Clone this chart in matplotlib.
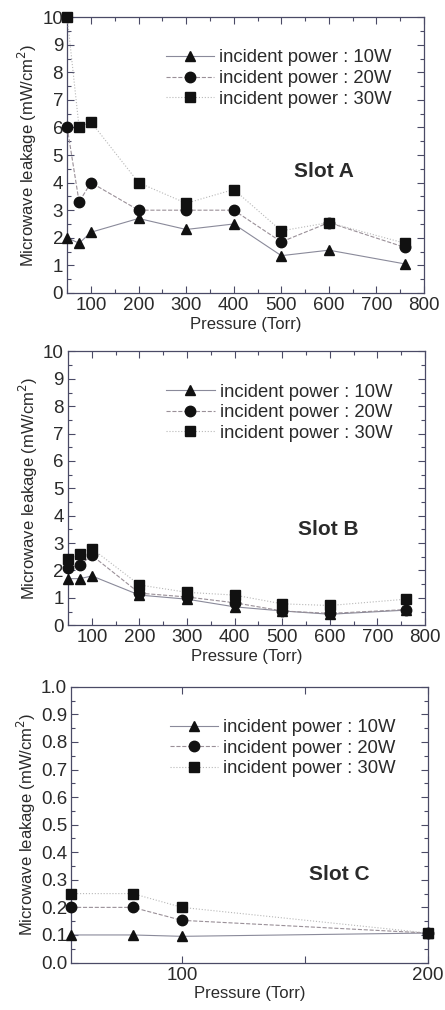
import numpy as np
import matplotlib
matplotlib.use("Agg")
from matplotlib import pyplot as plt
from matplotlib.ticker import MultipleLocator

# data
press_ab = [50, 75, 100, 200, 300, 400, 500, 600, 760]
a_10w = [2.0, 1.8, 2.2, 2.7, 2.3, 2.5, 1.35, 1.55, 1.05]
a_20w = [6.0, 3.3, 4.0, 3.0, 3.0, 3.0, 1.85, 2.55, 1.65]
a_30w = [10.0, 6.0, 6.2, 4.0, 3.25, 3.75, 2.25, 2.55, 1.8]

b_10w = [1.7, 1.7, 1.8, 1.1, 0.95, 0.67, 0.52, 0.4, 0.55]
b_20w = [2.1, 2.2, 2.55, 1.17, 1.03, 0.82, 0.52, 0.43, 0.57]
b_30w = [2.4, 2.6, 2.8, 1.47, 1.2, 1.1, 0.78, 0.72, 0.95]

press_c = [55, 80, 100, 200]
c_10w = [0.1, 0.1, 0.095, 0.107]
c_20w = [0.2, 0.2, 0.153, 0.107]
c_30w = [0.25, 0.25, 0.2, 0.107]

labels = ["incident power : 10W", "incident power : 20W", "incident power : 30W"]
markers = ["^", "o", "s"]
styles = ["-", "--", ":"]
lcolors = ["#8a8a9a", "#9a9098", "#b8b8b8"]

plt.rcParams['font.family'] = ['Liberation Sans', 'DejaVu Sans']
txt = "#2a2a2a"
frame = "#4a4a66"

fig = plt.figure(figsize=(4.45, 10.10), dpi=100)

def panel(rect, x, ys, slot, spos, xlim, ylim):
    ax = fig.add_axes(rect)
    for y, m, ls, c, lab in zip(ys, markers, styles, lcolors, labels):
        ax.plot(x, y, linestyle=ls, color=c, lw=0.8, marker=m, ms=7.5,
                mfc="#111111", mec="#111111", label=lab, clip_on=False, zorder=3)
    ax.set_xlim(*xlim)
    ax.set_ylim(*ylim)
    for s in ax.spines.values():
        s.set_color(frame)
        s.set_linewidth(0.9)
    ax.tick_params(which="both", direction="in", top=True, right=True,
                   colors=frame, labelcolor=txt, labelsize=13.5, width=0.8, pad=3)
    ax.tick_params(which="major", length=5)
    ax.tick_params(which="minor", length=3)
    ax.set_xlabel("Pressure (Torr)", fontsize=12, color=txt, labelpad=2)
    ax.set_ylabel("Microwave leakage (mW/cm$^2$)", fontsize=12, color=txt, labelpad=2)
    ax.legend(loc="upper left", bbox_to_anchor=(0.255, 0.91), frameon=False,
              fontsize=13.3, handlelength=2.6, handletextpad=0.3,
              labelspacing=0.2, labelcolor=txt, borderaxespad=0)
    ax.text(spos[0], spos[1], slot, transform=ax.transAxes, fontsize=15,
            fontweight="bold", color=txt, ha="center", va="center")
    return ax

ax1 = panel([0.151, 0.710, 0.802, 0.273], press_ab, [a_10w, a_20w, a_30w],
            "Slot A", (0.72, 0.44), (50, 800), (0, 10))
ax1.set_xticks(np.arange(100, 801, 100))
ax1.xaxis.set_minor_locator(MultipleLocator(50))
ax1.set_yticks(np.arange(0, 11, 1))
ax1.yaxis.set_minor_locator(MultipleLocator(0.5))

ax2 = panel([0.153, 0.381, 0.802, 0.271], press_ab, [b_10w, b_20w, b_30w],
            "Slot B", (0.73, 0.35), (50, 800), (0, 10))
ax2.set_xticks(np.arange(100, 801, 100))
ax2.xaxis.set_minor_locator(MultipleLocator(50))
ax2.set_yticks(np.arange(0, 11, 1))
ax2.yaxis.set_minor_locator(MultipleLocator(0.5))

ax3 = panel([0.160, 0.047, 0.802, 0.273], press_c, [c_10w, c_20w, c_30w],
            "Slot C", (0.75, 0.32), (55, 200), (0, 1.0))
ax3.set_xticks([100, 150, 200], ["100", "", "200"])
ax3.set_yticks(np.arange(0, 1.01, 0.1))
ax3.set_yticklabels(["%.1f" % v for v in np.arange(0, 1.01, 0.1)])
ax3.yaxis.set_minor_locator(MultipleLocator(0.05))

fig.savefig("out.png", dpi=100)
